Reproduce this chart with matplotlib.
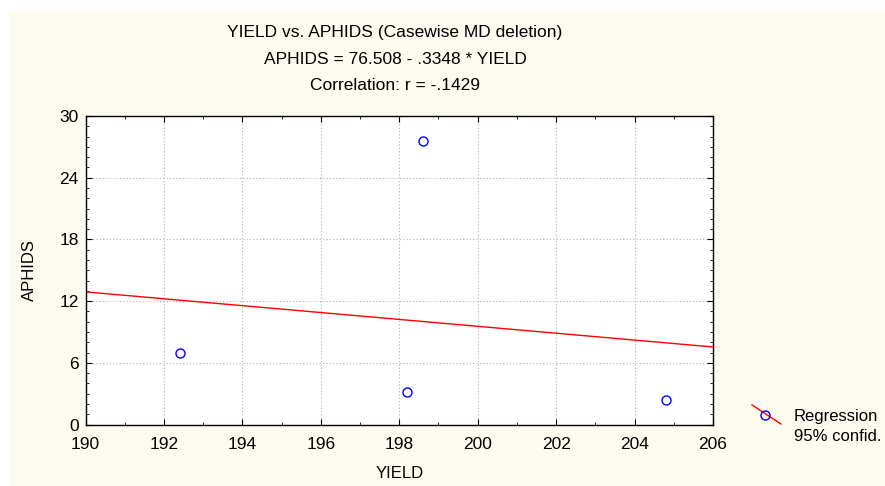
import numpy as np
import matplotlib
matplotlib.use("Agg")
import matplotlib.pyplot as plt
from matplotlib.patches import Rectangle
from matplotlib.lines import Line2D
from matplotlib.ticker import MultipleLocator

# observed cases
yield_vals = [192.4, 198.6, 198.2, 204.8]
aphids_vals = [7.0, 27.6, 3.2, 2.4]

# fitted regression APHIDS = a + b * YIELD
intercept = 76.508
slope = -0.3348
r_value = -0.1429

plt.rcParams['font.family'] = ['Liberation Sans', 'DejaVu Sans']

fig = plt.figure(figsize=(8.85, 4.86), dpi=100)
fig.patch.set_facecolor('white')
fig.patches.append(Rectangle((9 / 885, 0), 1, 1 - 12 / 486, transform=fig.transFigure,
                             facecolor='#fdfaf0', edgecolor='none', zorder=-10))

ax = fig.add_axes([85.5 / 885, 61.5 / 486, 627.5 / 885, 308.5 / 486])
ax.set_facecolor('white')

xline = np.array([190, 206])
ax.plot(xline, intercept + slope * xline, color='red', lw=1, zorder=2)
ax.plot(yield_vals, aphids_vals, 'o', ms=6.5, mfc='none', mec='blue', mew=1, zorder=3)

ax.set_xlim(190, 206)
ax.set_ylim(0, 30)
ax.xaxis.set_major_locator(MultipleLocator(2))
ax.xaxis.set_minor_locator(MultipleLocator(1))
ax.yaxis.set_major_locator(MultipleLocator(6))
ax.yaxis.set_minor_locator(MultipleLocator(1))
ax.tick_params(which='both', direction='in', top=True, right=True, labelsize=12.5)
ax.tick_params(axis='x', which='major', pad=9)
ax.tick_params(axis='y', which='major', pad=5)
ax.tick_params(which='major', length=4)
ax.tick_params(which='minor', length=2)
ax.grid(True, which='major', ls=(0, (1, 2)), color='#b0b0b0', lw=0.8)
ax.set_axisbelow(True)
for s in ax.spines.values():
    s.set_linewidth(1)

ax.set_xlabel('YIELD', fontsize=12, labelpad=10)
ax.set_ylabel('APHIDS', fontsize=12, labelpad=16)

cx = 395 / 885
fig.text(cx, 1 - 32 / 486, 'YIELD vs. APHIDS (Casewise MD deletion)', ha='center', va='center',
         fontsize=12.5)
fig.text(cx, 1 - 59 / 486, 'APHIDS = 76.508 - .3348 * YIELD',
         ha='center', va='center', fontsize=12.5)
fig.text(cx, 1 - 86 / 486, 'Correlation: r = -.1429', ha='center', va='center',
         fontsize=12.5)

# legend symbol
fig.add_artist(Line2D([752 / 885, 781 / 885], [1 - 405 / 486, 1 - 424 / 486],
                      transform=fig.transFigure, color='red', lw=1))
fig.add_artist(Line2D([765 / 885], [1 - 414.5 / 486], transform=fig.transFigure,
                      marker='o', ms=6.5, mfc='none', mec='blue', mew=1))
fig.text(794 / 885, 1 - 416 / 486, 'Regression', ha='left', va='center', fontsize=12)
fig.text(794 / 885, 1 - 436 / 486, '95% confid.', ha='left', va='center', fontsize=12)

fig.savefig('out.png', dpi=100, facecolor=fig.get_facecolor())
